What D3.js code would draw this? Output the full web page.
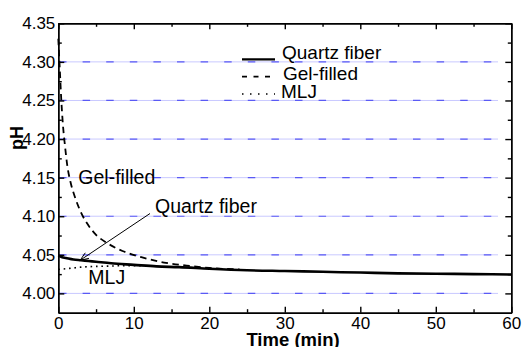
<!DOCTYPE html>
<html>
<head>
<meta charset="utf-8">
<script src="https://cdn.jsdelivr.net/npm/d3@7"></script>
<style>
  body { margin: 0; background: #fff; }
  svg { display: block; font-family: "Liberation Sans", Arial, sans-serif; }
  .axis path, .axis line { stroke: #000; stroke-width: 1.4; }
  .axis text { font-size: 17px; fill: #000; }
</style>
</head>
<body>
<div class="chart"></div>
<script>
// data
var quartzTime = [0, 0.5, 1, 2, 3, 4, 5, 7, 10, 13, 16, 20, 25, 30, 35, 40, 45, 50, 55, 60];
var quartzPH = [4.049, 4.047, 4.046, 4.044, 4.043, 4.042, 4.041, 4.039, 4.037, 4.035, 4.034, 4.032, 4.030, 4.029, 4.028, 4.027, 4.026, 4.0255, 4.025, 4.0245];

var gelTime = [0, 0.2, 0.4, 0.6, 0.9, 1.2, 1.6, 2.2, 3, 4, 5, 6.5, 8.5, 11, 14, 17, 20, 24];
var gelPH = [4.33, 4.29, 4.25, 4.22, 4.19, 4.165, 4.145, 4.125, 4.105, 4.088, 4.076, 4.065, 4.055, 4.047, 4.040, 4.036, 4.033, 4.031];

var mljTime = [0, 1, 2, 3, 5, 7, 9, 11];
var mljPH = [4.031, 4.032, 4.033, 4.034, 4.035, 4.0355, 4.036, 4.036];

var xTicks = [0, 10, 20, 30, 40, 50, 60];
var xMinor = [5, 15, 25, 35, 45, 55];
var yTicks = [4.00, 4.05, 4.10, 4.15, 4.20, 4.25, 4.30, 4.35];
var yMinor = [4.025, 4.075, 4.125, 4.175, 4.225, 4.275, 4.325];
var gridValues = [4.00, 4.05, 4.10, 4.15, 4.20, 4.25, 4.30];

var svgWidth = 523;
var svgHeight = 347;
var plot = { left: 58.3, right: 511.3, top: 23.3, bottom: 312.7 };

var svg = d3.select(".chart")
  .append("svg")
  .attr("width", svgWidth)
  .attr("height", svgHeight);

var xScale = d3.scaleLinear().domain([0, 60]).range([plot.left, plot.right]);
var yScale = d3.scaleLinear().domain([3.975, 4.35]).range([plot.bottom, plot.top]);

// grid lines: pale blue line with darker blue dashes
var grid = svg.append("g");
gridValues.forEach(function (v) {
  grid.append("line")
    .attr("x1", plot.left).attr("x2", 498)
    .attr("y1", yScale(v)).attr("y2", yScale(v))
    .attr("stroke", "#c9c9ff").attr("stroke-width", 1);
  grid.append("line")
    .attr("x1", plot.left).attr("x2", 498)
    .attr("y1", yScale(v)).attr("y2", yScale(v))
    .attr("stroke", "#5a5af5").attr("stroke-width", 1.2)
    .attr("stroke-dasharray", "7.5,16.1")
    .attr("stroke-dashoffset", 22.9);
});

/********************************************/
// series
function series(times, vals) {
  return times.map(function (t, i) { return [t, vals[i]]; });
}
var line = d3.line()
  .x(d => xScale(d[0]))
  .y(d => yScale(d[1]))
  .curve(d3.curveMonotoneX);

svg.append("path")
  .attr("d", line(series(mljTime, mljPH)))
  .attr("fill", "none").attr("stroke", "#000")
  .attr("stroke-width", 1.6)
  .attr("stroke-dasharray", "1.6,3.8");

svg.append("path")
  .attr("d", line(series(gelTime, gelPH)))
  .attr("fill", "none").attr("stroke", "#000")
  .attr("stroke-width", 1.8)
  .attr("stroke-dasharray", "6.5,4.5");

svg.append("path")
  .attr("d", line(series(quartzTime, quartzPH)))
  .attr("fill", "none").attr("stroke", "#000")
  .attr("stroke-width", 2.6);

/********************************************/
// axes (ticks pointing inside)
svg.append("g").attr("class", "axis")
  .attr("transform", `translate(0, ${plot.bottom})`)
  .call(d3.axisBottom(xScale).tickValues(xTicks).tickSizeInner(-6).tickSizeOuter(0).tickPadding(4.5).tickFormat(d3.format("d")));
svg.append("g").attr("class", "axis")
  .attr("transform", `translate(0, ${plot.bottom})`)
  .call(d3.axisBottom(xScale).tickValues(xMinor).tickSizeInner(-3.5).tickSizeOuter(0).tickFormat(""));
svg.append("g").attr("class", "axis")
  .attr("transform", `translate(0, ${plot.top})`)
  .call(d3.axisTop(xScale).tickValues(xTicks).tickSizeInner(-6).tickSizeOuter(0).tickFormat(""));
svg.append("g").attr("class", "axis")
  .attr("transform", `translate(0, ${plot.top})`)
  .call(d3.axisTop(xScale).tickValues(xMinor).tickSizeInner(-3.5).tickSizeOuter(0).tickFormat(""));

svg.append("g").attr("class", "axis")
  .attr("transform", `translate(${plot.left}, 0)`)
  .call(d3.axisLeft(yScale).tickValues(yTicks).tickSizeInner(-6).tickSizeOuter(0).tickPadding(3).tickFormat(d3.format(".2f")));
svg.append("g").attr("class", "axis")
  .attr("transform", `translate(${plot.left}, 0)`)
  .call(d3.axisLeft(yScale).tickValues(yMinor).tickSizeInner(-3.5).tickSizeOuter(0).tickFormat(""));
svg.append("g").attr("class", "axis")
  .attr("transform", `translate(${plot.right}, 0)`)
  .call(d3.axisRight(yScale).tickValues(yTicks).tickSizeInner(-6).tickSizeOuter(0).tickFormat(""));
svg.append("g").attr("class", "axis")
  .attr("transform", `translate(${plot.right}, 0)`)
  .call(d3.axisRight(yScale).tickValues(yMinor).tickSizeInner(-3.5).tickSizeOuter(0).tickFormat(""));

svg.selectAll(".axis text").attr("font-family", "Liberation Sans, Arial, sans-serif");

/********************************************/
// axis titles
svg.append("text")
  .attr("x", 293).attr("y", 345.5)
  .attr("text-anchor", "middle")
  .attr("font-size", "18.5px").attr("font-weight", "bold")
  .text("Time (min)");

svg.append("text")
  .attr("transform", "translate(23, 138) rotate(-90)")
  .attr("text-anchor", "middle")
  .attr("font-size", "18px").attr("font-weight", "bold")
  .text("pH");

/********************************************/
// legend
var legendRows = [
  { label: "Quartz fiber", dash: null, width: 2.2, y: 59.3, ty: 58.5, tx: 282 },
  { label: "Gel-filled", dash: "5,6.5", width: 1.8, y: 76.7, ty: 80, tx: 283 },
  { label: "MLJ", dash: "1.5,6.5", width: 1.6, y: 94, ty: 98.3, tx: 281 }
];
legendRows.forEach(function (r) {
  svg.append("line")
    .attr("x1", 242).attr("x2", 275)
    .attr("y1", r.y).attr("y2", r.y)
    .attr("stroke", "#000").attr("stroke-width", r.width)
    .attr("stroke-dasharray", r.dash);
  svg.append("text")
    .attr("x", r.tx).attr("y", r.ty)
    .attr("font-size", "19px")
    .text(r.label);
});

/********************************************/
// annotations
svg.append("text")
  .attr("x", 78.3).attr("y", 183.5)
  .attr("font-size", "19.5px")
  .text("Gel-filled");

svg.append("text")
  .attr("x", 155).attr("y", 213.3)
  .attr("font-size", "19.5px")
  .text("Quartz fiber");

svg.append("text")
  .attr("x", 88.3).attr("y", 284.3)
  .attr("font-size", "19.5px")
  .text("MLJ");

// arrow pointing at the quartz curve
var tipX = xScale(2.9), tipY = yScale(4.043);
var startX = 150, startY = 213.5;
svg.append("line")
  .attr("x1", startX).attr("y1", startY)
  .attr("x2", tipX).attr("y2", tipY)
  .attr("stroke", "#000").attr("stroke-width", 1);
var ang = Math.atan2(startY - tipY, startX - tipX);
[0.38, -0.38].forEach(function (da) {
  svg.append("line")
    .attr("x1", tipX).attr("y1", tipY)
    .attr("x2", tipX + 9 * Math.cos(ang + da))
    .attr("y2", tipY + 9 * Math.sin(ang + da))
    .attr("stroke", "#000").attr("stroke-width", 1);
});
</script>
</body>
</html>
